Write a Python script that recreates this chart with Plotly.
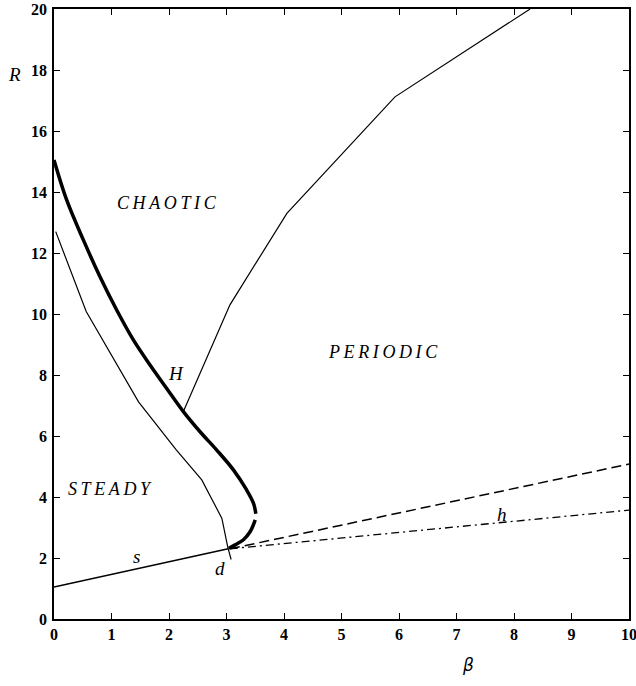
import plotly.graph_objects as go

# ---- data ----
s_beta = [0.0, 3.03]
s_R = [1.05, 2.3]

thin_left_beta = [0.03, 0.56, 1.47, 2.13, 2.57, 2.92, 3.02, 3.08]
thin_left_R = [12.7, 10.08, 7.12, 5.54, 4.56, 3.3, 2.37, 1.95]

upper_beta = [2.25, 3.06, 4.05, 5.93, 8.28]
upper_R = [6.8, 10.3, 13.3, 17.12, 20.0]

H_upper_beta = [0.0, 0.22, 0.51, 0.8, 1.09, 1.38, 1.67, 1.96, 2.25, 2.54, 2.83, 3.12, 3.35, 3.47, 3.51]
H_upper_R = [15.05, 13.74, 12.43, 11.22, 10.13, 9.15, 8.33, 7.56, 6.8, 6.14, 5.54, 4.89, 4.23, 3.79, 3.45]
H_lower_beta = [3.5, 3.41, 3.29, 3.15, 3.04]
H_lower_R = [3.25, 2.86, 2.59, 2.43, 2.32]

dash_beta = [3.06, 10.0]
dash_R = [2.3, 5.08]
dashdot_beta = [3.06, 10.0]
dashdot_R = [2.3, 3.57]

x_ticks = [0, 1, 2, 3, 4, 5, 6, 7, 8, 9, 10]
y_ticks = [0, 2, 4, 6, 8, 10, 12, 14, 16, 18, 20]

labels = [
    ("CHAOTIC", 1.96, 13.65),
    ("PERIODIC", 5.73, 8.76),
    ("STEADY", 0.97, 4.25),
]
small_labels = [
    ("H", 2.13, 8.06),
    ("s", 1.44, 2.04),
    ("d", 2.89, 1.66),
    ("h", 7.79, 3.44),
]

fig = go.Figure()

def add_line(x, y, width, dash="solid", spline=False):
    fig.add_trace(go.Scatter(
        x=x, y=y, mode="lines",
        line=dict(color="black", width=width, dash=dash,
                  shape="spline" if spline else "linear", smoothing=1.0),
        showlegend=False, hoverinfo="skip"))

add_line(s_beta, s_R, 1.5)
add_line(thin_left_beta, thin_left_R, 1.2)
add_line(upper_beta, upper_R, 1.2)
add_line(H_upper_beta, H_upper_R, 3.5, spline=True)
add_line(H_lower_beta, H_lower_R, 3.5, spline=True)
add_line(dash_beta, dash_R, 1.5, dash="10px,5px")
add_line(dashdot_beta, dashdot_R, 1.3, dash="8px,4px,2px,4px")

thin = "\u2009"
for txt, x, y in labels:
    fig.add_annotation(x=x, y=y, text="<i>" + thin.join(txt) + "</i>", showarrow=False,
                       font=dict(family="Liberation Serif", size=18, color="black"))
for txt, x, y in small_labels:
    fig.add_annotation(x=x, y=y, text="<i>" + txt + "</i>", showarrow=False,
                       font=dict(family="Liberation Serif", size=19, color="black"))

# axis titles
fig.add_annotation(x=-0.068, y=0.892, xref="paper", yref="paper", text="<i>R</i>",
                   xanchor="center", yanchor="middle",
                   showarrow=False, font=dict(family="Liberation Serif", size=19, color="black"))
fig.add_annotation(x=0.72, y=-0.0754, xref="paper", yref="paper", text="<i>β</i>",
                   xanchor="center", yanchor="middle",
                   showarrow=False, font=dict(family="DejaVu Sans", size=17, color="black"))

axis_common = dict(
    showgrid=False, zeroline=False, showline=True, linecolor="black", linewidth=1.5,
    mirror="ticks", ticks="inside", ticklen=6, tickwidth=1.2, tickcolor="black",
    automargin=False, ticklabeloverflow="allow",
    tickfont=dict(family="Liberation Sans Narrow", size=16, color="black", weight="bold"),
)
fig.update_xaxes(range=[0, 10], tickvals=x_ticks, ticktext=[str(v) for v in x_ticks], **axis_common)
fig.update_yaxes(range=[0, 20], tickvals=y_ticks, ticktext=[str(v) for v in y_ticks],
                 ticklabelstandoff=2, **axis_common)

fig.update_layout(
    width=636, height=686,
    margin=dict(l=54, r=7, t=9, b=67),
    plot_bgcolor="white", paper_bgcolor="white",
)

fig.write_html("out.html")
